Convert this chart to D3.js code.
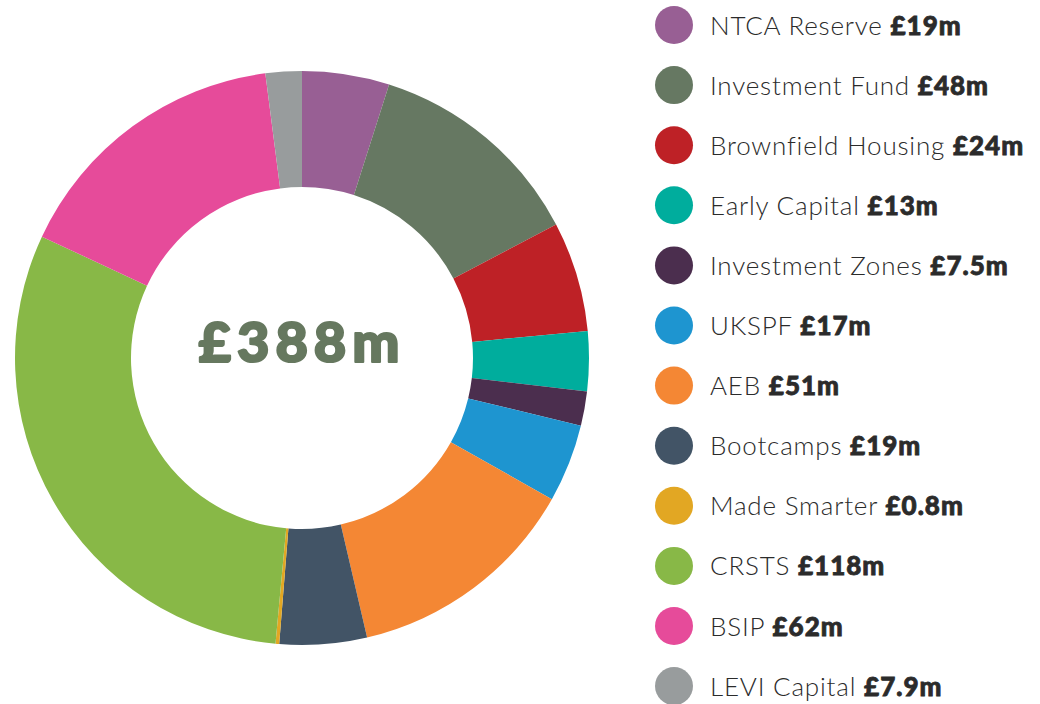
<!DOCTYPE html>
<html>
<head>
<meta charset="utf-8">
<script src="https://cdn.jsdelivr.net/npm/d3@7/dist/d3.min.js"></script>
<style>
  body { margin: 0; background: #fff; }
  svg { display: block; }
</style>
</head>
<body>
<div id="chart"></div>
<script>
// Data
var names = ["NTCA Reserve", "Investment Fund", "Brownfield Housing", "Early Capital",
  "Investment Zones", "UKSPF", "AEB", "Bootcamps", "Made Smarter", "CRSTS", "BSIP", "LEVI Capital"];
var values = [19, 48, 24, 13, 7.5, 17, 51, 19, 0.8, 118, 62, 7.9];
var labels = ["£19m", "£48m", "£24m", "£13m", "£7.5m", "£17m", "£51m", "£19m", "£0.8m", "£118m", "£62m", "£7.9m"];
var colors = ["#985f94", "#667862", "#be2126", "#00ad9d", "#4b2e4e", "#1e95d0",
  "#f48734", "#425466", "#e2a723", "#88b847", "#e64b9a", "#989c9d"];
var totalLabel = "£388m";

// Placement
var width = 1040,
  height = 704,
  cx = 302,
  cy = 358,
  outerR = 287,
  innerR = 171,
  legX = 674,
  legTop = 25,
  legStep = 60.1;

var svg = d3.select("#chart")
  .append("svg")
  .attr("width", width)
  .attr("height", height);

var color = d3.scaleOrdinal().domain(names).range(colors);

var pie = d3.pie()
  .sort(null)
  .value(function(d, i) { return values[i]; });

var arc = d3.arc()
  .innerRadius(innerR)
  .outerRadius(outerR);

var donut = svg.append("g")
  .attr("transform", "translate(" + cx + "," + cy + ")");

donut.selectAll("path")
  .data(pie(names))
  .enter().append("path")
  .attr("d", arc)
  .attr("fill", function(d) { return color(d.data); });

// total in the hole
donut.append("text")
  .attr("x", 0)
  .attr("y", 4)
  .attr("text-anchor", "middle")
  .attr("font-family", "Lato, 'Open Sans', sans-serif")
  .attr("font-weight", 900)
  .attr("font-size", 56)
  .attr("letter-spacing", 6)
  .attr("fill", "#66785f")
  .attr("stroke", "#66785f")
  .attr("stroke-width", 2.2)
  .attr("stroke-linejoin", "round")
  .text(totalLabel);

// Legend
var y = d3.scalePoint()
  .domain(names)
  .range([legTop, legTop + legStep * (names.length - 1)]);

var leg = svg.append("g").selectAll("g")
  .data(names)
  .enter().append("g")
  .attr("transform", function(d) { return "translate(" + legX + "," + y(d) + ")"; });

leg.append("circle")
  .attr("r", 19)
  .attr("fill", function(d) { return color(d); });

var txt = leg.append("text")
  .attr("x", 36)
  .attr("y", 9.5)
  .attr("font-family", "Lato, 'Open Sans', sans-serif")
  .attr("font-size", 26)
  .attr("fill", "#2b2b2b");

txt.append("tspan")
  .attr("font-weight", 300)
  .attr("letter-spacing", 0.8)
  .text(function(d) { return d + " "; });

txt.append("tspan")
  .attr("font-weight", 900)
  .attr("letter-spacing", 1)
  .attr("stroke", "#2b2b2b")
  .attr("stroke-width", 0.8)
  .text(function(d, i) { return labels[i]; });
</script>
</body>
</html>
